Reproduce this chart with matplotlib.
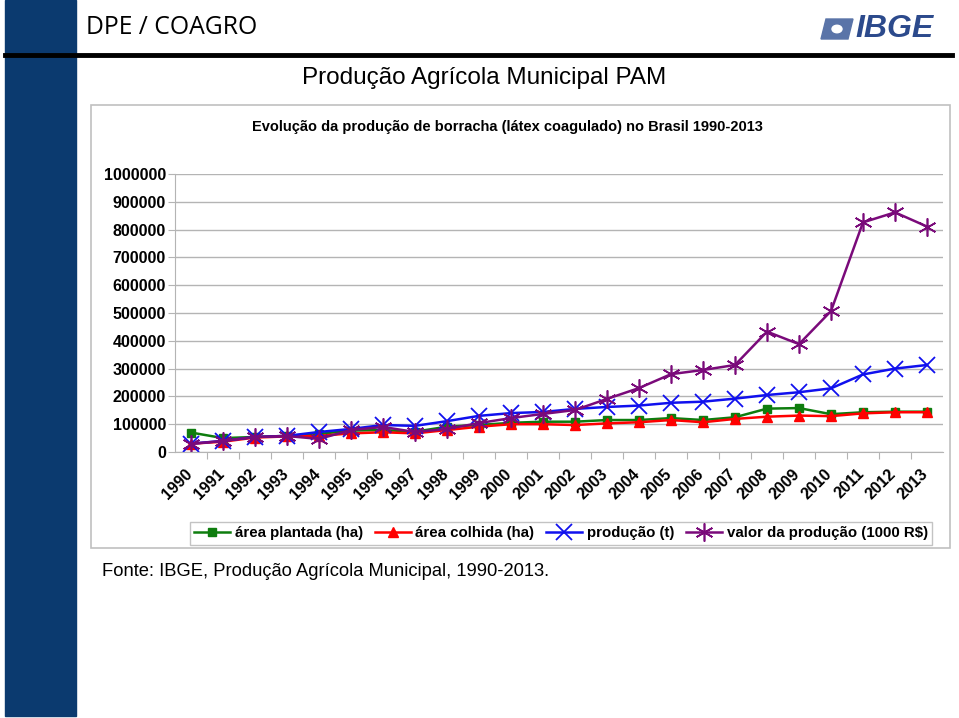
import matplotlib.pyplot as plt
from matplotlib.patches import Rectangle, Polygon, Circle
from matplotlib.lines import Line2D

plt.rcParams['font.family'] = ['Liberation Sans', 'DejaVu Sans']

anos = [str(a) for a in range(1990, 2014)]
area_plantada = [70000, 50000, 54000, 58000, 65000, 77000, 79000, 73000, 91000, 97000, 105000, 109000,
                 109000, 115000, 115000, 122000, 115000, 125000, 156000, 158000, 136000, 143000, 145000, 145000]
area_colhida = [30000, 37000, 52000, 56000, 58000, 67000, 71000, 67000, 79000, 91000, 100000, 100000,
                97000, 103000, 107000, 115000, 107000, 119000, 127000, 131000, 129000, 139000, 143000, 143000]
producao = [30000, 40000, 54000, 58000, 72000, 83000, 97000, 94000, 111000, 130000, 140000, 144000,
            155000, 162000, 167000, 177000, 181000, 192000, 205000, 215000, 229000, 279000, 300000, 313000]
valor = [29000, 40000, 54000, 57500, 47000, 79000, 90000, 72000, 83000, 104000, 122000, 137000,
         151000, 191000, 230000, 280000, 295000, 313000, 433000, 388000, 507000, 826000, 862000, 811000]

W, H = 959, 718
fig = plt.figure(figsize=(W / 100, H / 100), dpi=100)

def fx(x):
    return x / W

def fy(y):
    return 1 - y / H

# header decoration
fig.patches.append(Rectangle((fx(5), fy(716)), fx(76) - fx(5), fy(0) - fy(716),
                             transform=fig.transFigure, color='#0b3a6f', zorder=0))
fig.add_artist(Line2D([fx(5), fx(952)], [fy(54.5), fy(54.5)], transform=fig.transFigure,
                      color='black', lw=3.5))
fig.text(fx(86), fy(28), 'DPE / COAGRO', fontsize=17.8, family='Open Sans', va='center', ha='left')

# IBGE logo
logo_c = '#5a74a8'
fig.patches.append(Polygon([(fx(821), fy(39)), (fx(826), fy(19)), (fx(853), fy(19)), (fx(848), fy(39))],
                           closed=True, transform=fig.transFigure, color=logo_c))
fig.patches.append(Circle((fx(837), fy(29)), 5 / W, transform=fig.transFigure, color='white'))
fig.text(fx(855), fy(29), 'IBGE', fontsize=23, fontweight='bold', style='italic',
         color='#2c4a8c', va='center', ha='left')

# chart frame
fig.patches.append(Rectangle((fx(91), fy(548)), fx(950) - fx(91), fy(105) - fy(548),
                             transform=fig.transFigure, fill=False, ec='#c0c0c0', lw=1.2))

fig.text(fx(484), fy(78), 'Produção Agrícola Municipal PAM', fontsize=17.5, ha='center', va='center')
fig.text(fx(507), fy(127), 'Evolução da produção de borracha (látex coagulado) no Brasil 1990-2013',
         fontsize=10.5, fontweight='bold', ha='center', va='center')
fig.text(fx(102), fy(572), 'Fonte: IBGE, Produção Agrícola Municipal, 1990-2013.',
         fontsize=13.2, ha='left', va='center')

ax = fig.add_axes([fx(175), fy(452), fx(943) - fx(175), fy(174) - fy(452)])
x = list(range(len(anos)))
ax.plot(x, area_plantada, color='#0e7d0e', lw=1.8, marker='s', ms=6, label='área plantada (ha)')
ax.plot(x, area_colhida, color='#ff0000', lw=1.8, marker='^', ms=7, label='área colhida (ha)')
ax.plot(x, producao, color='#1010ee', lw=1.8, marker='x', ms=11, mew=1.3, label='produção (t)')
ax.plot(x, valor, color='#7a0a7a', lw=1.8, marker=(6, 2, 0), ms=13, mew=1.2,
        label='valor da produção (1000 R$)')

ax.set_xlim(-0.5, len(anos) - 0.5)
ax.set_ylim(0, 1000000)
ax.set_yticks(range(0, 1000001, 100000))
ax.set_yticklabels([str(v) for v in range(0, 1000001, 100000)], fontsize=11.5, fontweight='bold')
ax.yaxis.grid(True, color='#b4b4b4', lw=1)
ax.set_axisbelow(True)
ax.set_xticks([i + 0.5 for i in range(len(anos) - 1)], minor=False)
ax.set_xticklabels([])
ax.tick_params(axis='x', length=5, color='#b4b4b4', direction='out')
ax.tick_params(axis='y', length=5, color='#b4b4b4', direction='out', pad=1.5)
for s in ['top', 'right']:
    ax.spines[s].set_visible(False)
for s in ['left', 'bottom']:
    ax.spines[s].set_color('#b4b4b4')

for i, a in enumerate(anos):
    ax.annotate(a, xy=(i, 0), xycoords=('data', 'axes fraction'), xytext=(-1, -14),
                textcoords='offset points', rotation=45, rotation_mode='anchor',
                ha='right', va='center', fontsize=11.5, fontweight='bold')

leg = fig.legend(loc='center', bbox_to_anchor=(fx(561), fy(533.5)), ncol=4, frameon=True,
                 fancybox=False, edgecolor='#b4b4b4', prop={'weight': 'bold', 'size': 10.8},
                 handlelength=2.4, handletextpad=0.3, columnspacing=0.8, borderpad=0.3)
leg.get_frame().set_linewidth(1)

fig.savefig('out.png', dpi=100)
